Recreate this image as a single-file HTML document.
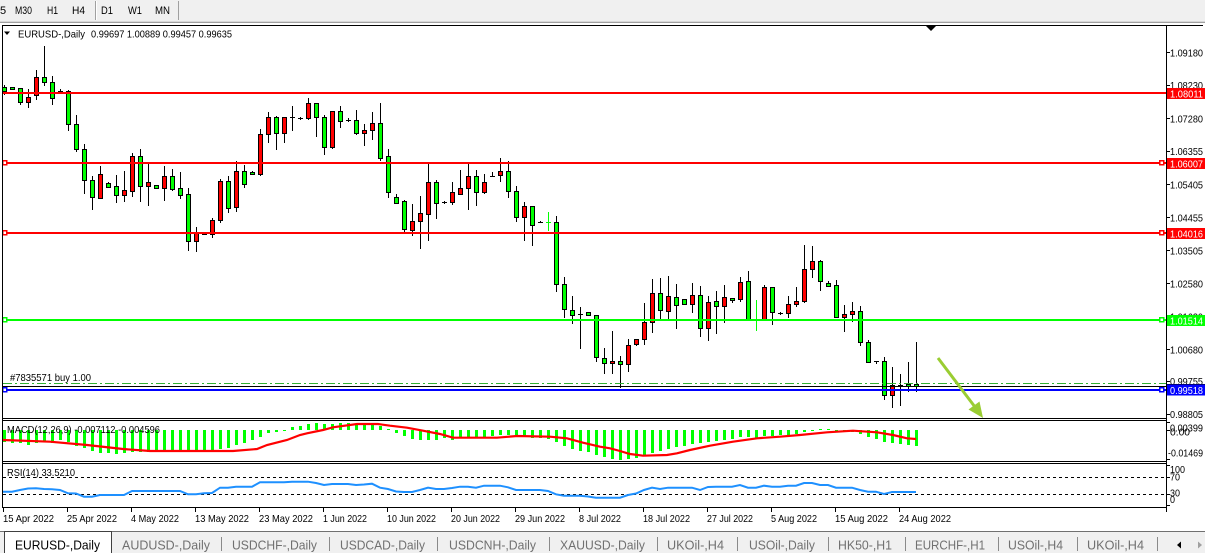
<!DOCTYPE html>
<html><head><meta charset="utf-8"><style>
html,body{margin:0;padding:0;background:#f0f0f0;}
svg{display:block;font-family:"Liberation Sans",Arial,sans-serif;}
</style></head><body>
<svg width="1205" height="553" viewBox="0 0 1205 553" xmlns="http://www.w3.org/2000/svg">
<!-- toolbar -->
<rect x="0" y="0" width="1205" height="21" fill="#f0f0f0"/>
<g font-size="11" fill="#000">
<text x="0" y="14">5</text>
<text x="15" y="14" textLength="17" lengthAdjust="spacingAndGlyphs">M30</text>
<text x="47" y="14" textLength="11" lengthAdjust="spacingAndGlyphs">H1</text>
<text x="72" y="14" textLength="13" lengthAdjust="spacingAndGlyphs">H4</text>
<text x="101" y="14" textLength="12" lengthAdjust="spacingAndGlyphs">D1</text>
<text x="128" y="14" textLength="14" lengthAdjust="spacingAndGlyphs">W1</text>
<text x="155" y="14" textLength="15" lengthAdjust="spacingAndGlyphs">MN</text>
</g>
<g shape-rendering="crispEdges">
<line x1="95.5" y1="1" x2="95.5" y2="20" stroke="#a0a0a0"/>
<line x1="96.5" y1="1" x2="96.5" y2="20" stroke="#ffffff"/>
<line x1="178.5" y1="1" x2="178.5" y2="20" stroke="#a0a0a0"/>
<line x1="0" y1="21.5" x2="1205" y2="21.5" stroke="#d8d8d8"/>
<line x1="0" y1="22.5" x2="1205" y2="22.5" stroke="#a0a0a0"/>
</g>
<!-- chart white area -->
<rect x="0" y="23" width="1205" height="508" fill="#ffffff"/>

<!-- candle wicks -->
<path fill="none" stroke="#000" stroke-width="1" shape-rendering="crispEdges" d="M4.5 85V95M20.5 88V105M28.5 89V108M36.5 70V100M44.5 46V86M52.5 76V105M60.5 89V93M68.5 90V131M76.5 115V152M84.5 144V194M92.5 176V210M100.5 166V199M108.5 182V187M116.5 175V203M124.5 171V202M132.5 153V197M140.5 149V202M148.5 163V206M156.5 185V189M164.5 166V201M172.5 169V191M180.5 172V199M188.5 188V251M196.5 227V252M204.5 233V235M212.5 218V238M220.5 179V223M228.5 176V213M236.5 161V212M244.5 165V188M252.5 171V175M260.5 129V176M268.5 112V143M276.5 116V150M284.5 117V143M292.5 106V131M300.5 117V120M308.5 98V120M316.5 103V137M324.5 115V155M332.5 111V149M340.5 106V128M348.5 118V122M356.5 110V135M364.5 124V146M372.5 112V140M380.5 103V161M388.5 149V198M396.5 194V204M404.5 200V234M412.5 204V236M420.5 196V249M428.5 163V241M436.5 180V219M444.5 201V204M452.5 182V205M460.5 170V195M468.5 163V210M476.5 170V206M484.5 174V194M492.5 172V177M500.5 158V182M508.5 161V198M516.5 186V222M524.5 202V241M532.5 206V246M540.5 221V223M556.5 216V292M564.5 277V318M572.5 296V324M580.5 307V349M588.5 312V316M596.5 315V362M604.5 348V374M612.5 331V374M620.5 356V388M628.5 339V372M636.5 339V346M644.5 303V345M652.5 279V333M660.5 278V319M668.5 276V320M676.5 284V329M692.5 283V313M700.5 286V337M708.5 296V341M716.5 291V334M724.5 285V323M732.5 298V303M740.5 277V302M748.5 271V320M764.5 285V320M772.5 287V325M780.5 312V315M788.5 296V318M796.5 287V307M804.5 245V303M812.5 246V278M820.5 260V291M828.5 281V286M836.5 280V318M844.5 305V332M852.5 302V322M860.5 306V346M868.5 340V362M876.5 361V364M884.5 357V400M892.5 367V408M900.5 374V406M908.5 362V392M916.5 342V392"/>
<!-- doji -->
<path fill="none" stroke="#000" stroke-width="1" shape-rendering="crispEdges" d="M58 91.5h5M202 234.5h5M290 117.5h5M298 118.5h5M346 120.5h5M442 202.5h5M490 176.5h5M538 222.5h5M578 314.5h5M778 313.5h5M874 361.5h5M898 385.5h5"/>
<path fill="none" stroke="#00ff00" stroke-width="1" shape-rendering="crispEdges" d="M548.5 212V231M546 222.5h5M756.5 300V331M754 320.5h5"/>
<!-- bear (green) bodies -->
<g fill="#00ff00" stroke="#000" stroke-width="1" shape-rendering="crispEdges">
<rect x="2.5" y="87.5" width="4" height="4"/>
<rect x="10.5" y="87.5" width="4" height="2"/>
<rect x="18.5" y="88.5" width="4" height="14"/>
<rect x="42.5" y="77.5" width="4" height="5"/>
<rect x="50.5" y="82.5" width="4" height="16"/>
<rect x="66.5" y="91.5" width="4" height="33"/>
<rect x="74.5" y="124.5" width="4" height="25"/>
<rect x="82.5" y="149.5" width="4" height="31"/>
<rect x="90.5" y="180.5" width="4" height="17"/>
<rect x="106.5" y="183.5" width="4" height="4"/>
<rect x="114.5" y="186.5" width="4" height="9"/>
<rect x="138.5" y="156.5" width="4" height="30"/>
<rect x="154.5" y="185.5" width="4" height="3"/>
<rect x="170.5" y="176.5" width="4" height="13"/>
<rect x="178.5" y="188.5" width="4" height="7"/>
<rect x="186.5" y="194.5" width="4" height="47"/>
<rect x="226.5" y="181.5" width="4" height="27"/>
<rect x="242.5" y="171.5" width="4" height="13"/>
<rect x="250.5" y="172.5" width="4" height="2"/>
<rect x="274.5" y="117.5" width="4" height="16"/>
<rect x="314.5" y="103.5" width="4" height="14"/>
<rect x="322.5" y="117.5" width="4" height="30"/>
<rect x="338.5" y="111.5" width="4" height="10"/>
<rect x="354.5" y="120.5" width="4" height="13"/>
<rect x="378.5" y="123.5" width="4" height="35"/>
<rect x="386.5" y="156.5" width="4" height="36"/>
<rect x="394.5" y="197.5" width="4" height="6"/>
<rect x="402.5" y="201.5" width="4" height="28"/>
<rect x="434.5" y="182.5" width="4" height="21"/>
<rect x="474.5" y="176.5" width="4" height="16"/>
<rect x="506.5" y="171.5" width="4" height="20"/>
<rect x="514.5" y="191.5" width="4" height="26"/>
<rect x="530.5" y="206.5" width="4" height="19"/>
<rect x="554.5" y="222.5" width="4" height="62"/>
<rect x="562.5" y="284.5" width="4" height="25"/>
<rect x="570.5" y="310.5" width="4" height="5"/>
<rect x="586.5" y="312.5" width="4" height="3"/>
<rect x="594.5" y="315.5" width="4" height="42"/>
<rect x="602.5" y="358.5" width="4" height="5"/>
<rect x="618.5" y="361.5" width="4" height="3"/>
<rect x="658.5" y="293.5" width="4" height="17"/>
<rect x="674.5" y="297.5" width="4" height="8"/>
<rect x="682.5" y="299.5" width="4" height="5"/>
<rect x="698.5" y="295.5" width="4" height="33"/>
<rect x="714.5" y="301.5" width="4" height="5"/>
<rect x="730.5" y="298.5" width="4" height="2"/>
<rect x="746.5" y="281.5" width="4" height="39"/>
<rect x="770.5" y="287.5" width="4" height="25"/>
<rect x="818.5" y="261.5" width="4" height="20"/>
<rect x="826.5" y="283.5" width="4" height="3"/>
<rect x="834.5" y="285.5" width="4" height="32"/>
<rect x="858.5" y="311.5" width="4" height="31"/>
<rect x="866.5" y="342.5" width="4" height="20"/>
<rect x="882.5" y="361.5" width="4" height="34"/>
<rect x="906.5" y="384.5" width="4" height="2"/>
<rect x="914.5" y="384.5" width="4" height="2"/>
</g>
<!-- bull (red) bodies -->
<g fill="#ff0000" stroke="#000" stroke-width="1" shape-rendering="crispEdges">
<rect x="26.5" y="97.5" width="4" height="5"/>
<rect x="34.5" y="77.5" width="4" height="18"/>
<rect x="98.5" y="174.5" width="4" height="24"/>
<rect x="122.5" y="190.5" width="4" height="5"/>
<rect x="130.5" y="156.5" width="4" height="35"/>
<rect x="146.5" y="182.5" width="4" height="4"/>
<rect x="162.5" y="176.5" width="4" height="12"/>
<rect x="194.5" y="233.5" width="4" height="8"/>
<rect x="210.5" y="220.5" width="4" height="14"/>
<rect x="218.5" y="181.5" width="4" height="39"/>
<rect x="234.5" y="171.5" width="4" height="36"/>
<rect x="258.5" y="134.5" width="4" height="40"/>
<rect x="266.5" y="117.5" width="4" height="17"/>
<rect x="282.5" y="117.5" width="4" height="16"/>
<rect x="306.5" y="103.5" width="4" height="15"/>
<rect x="330.5" y="111.5" width="4" height="36"/>
<rect x="362.5" y="130.5" width="4" height="3"/>
<rect x="370.5" y="123.5" width="4" height="7"/>
<rect x="410.5" y="221.5" width="4" height="9"/>
<rect x="418.5" y="213.5" width="4" height="8"/>
<rect x="426.5" y="182.5" width="4" height="32"/>
<rect x="450.5" y="192.5" width="4" height="10"/>
<rect x="458.5" y="188.5" width="4" height="6"/>
<rect x="466.5" y="176.5" width="4" height="12"/>
<rect x="482.5" y="182.5" width="4" height="10"/>
<rect x="498.5" y="171.5" width="4" height="4"/>
<rect x="522.5" y="206.5" width="4" height="11"/>
<rect x="610.5" y="361.5" width="4" height="2"/>
<rect x="626.5" y="345.5" width="4" height="19"/>
<rect x="634.5" y="339.5" width="4" height="5"/>
<rect x="642.5" y="322.5" width="4" height="17"/>
<rect x="650.5" y="293.5" width="4" height="29"/>
<rect x="666.5" y="296.5" width="4" height="15"/>
<rect x="690.5" y="295.5" width="4" height="9"/>
<rect x="706.5" y="302.5" width="4" height="26"/>
<rect x="722.5" y="297.5" width="4" height="9"/>
<rect x="738.5" y="282.5" width="4" height="17"/>
<rect x="762.5" y="287.5" width="4" height="33"/>
<rect x="786.5" y="304.5" width="4" height="9"/>
<rect x="794.5" y="301.5" width="4" height="3"/>
<rect x="802.5" y="269.5" width="4" height="32"/>
<rect x="810.5" y="261.5" width="4" height="8"/>
<rect x="842.5" y="314.5" width="4" height="3"/>
<rect x="850.5" y="311.5" width="4" height="3"/>
<rect x="890.5" y="385.5" width="4" height="10"/>
</g>

<!-- horizontal level lines -->
<g shape-rendering="crispEdges" stroke-width="2">
<line x1="2" y1="93" x2="1166" y2="93" stroke="#ff0000"/>
<line x1="2" y1="163" x2="1166" y2="163" stroke="#ff0000"/>
<line x1="2" y1="233" x2="1166" y2="233" stroke="#ff0000"/>
<line x1="2" y1="320" x2="1166" y2="320" stroke="#00ff00"/>
<line x1="2" y1="390" x2="1166" y2="390" stroke="#0000ff"/>
</g>
<!-- endpoint squares -->
<g fill="#fff" stroke-width="1.5" shape-rendering="crispEdges">
<rect x="2.5" y="160.5" width="4" height="4" stroke="#ff0000"/>
<rect x="2.5" y="230.5" width="4" height="4" stroke="#ff0000"/>
<rect x="2.5" y="317.5" width="4" height="4" stroke="#00ff00"/>
<rect x="2.5" y="387.5" width="4" height="4" stroke="#0000ff"/>
<rect x="1159.5" y="160.5" width="4" height="4" stroke="#ff0000"/>
<rect x="1159.5" y="230.5" width="4" height="4" stroke="#ff0000"/>
<rect x="1159.5" y="317.5" width="4" height="4" stroke="#00ff00"/>
<rect x="1159.5" y="387.5" width="4" height="4" stroke="#0000ff"/>
</g>
<!-- order line & bid line -->
<line x1="3" y1="383.5" x2="1166" y2="383.5" stroke="#33b033" stroke-width="1" stroke-dasharray="9,3,2,3" shape-rendering="crispEdges"/>
<line x1="3" y1="386.5" x2="1166" y2="386.5" stroke="#000" stroke-width="1" shape-rendering="crispEdges"/>
<text x="10" y="381" font-size="10.5" fill="#000" textLength="81" lengthAdjust="spacingAndGlyphs">#7835571 buy 1.00</text>

<!-- arrow -->
<line x1="938" y1="358" x2="975" y2="407" stroke="#9acd32" stroke-width="3"/>
<polygon points="983,418 979.5,401.5 968.5,409.5" fill="#9acd32"/>

<!-- top triangle marker -->
<polygon points="926,26 936,26 931,31" fill="#000"/>

<!-- title -->
<polygon points="4,31.5 10,31.5 7,35" fill="#000"/>
<text x="18" y="37.5" font-size="10.5" fill="#000" textLength="67" lengthAdjust="spacingAndGlyphs">EURUSD-,Daily</text>
<text x="91" y="37.5" font-size="10.5" fill="#000" textLength="141" lengthAdjust="spacingAndGlyphs">0.99697 1.00889 0.99457 0.99635</text>

<!-- MACD histogram -->
<path fill="none" stroke="#00ff00" stroke-width="3" shape-rendering="crispEdges" d="M4.5 430V442M12.5 430V443M20.5 430V443M28.5 430V445M36.5 430V443M44.5 430V442M52.5 430V443M60.5 430V440M68.5 430V442M76.5 430V446M84.5 430V448M92.5 430V451M100.5 430V453M108.5 430V453M116.5 430V454M124.5 430V453M132.5 430V452M140.5 430V452M148.5 430V452M156.5 430V451M164.5 430V450M172.5 430V450M180.5 430V450M188.5 430V450M196.5 430V450M204.5 430V452M212.5 430V450M220.5 430V449M228.5 430V448M236.5 430V445M244.5 430V443M252.5 430V440M260.5 430V437M268.5 430V433M276.5 430V432M284.5 430V431M292.5 430V427M300.5 430V426M308.5 430V424M316.5 430V423M324.5 430V424M332.5 430V424M340.5 430V423M348.5 430V423M356.5 430V424M364.5 430V425M372.5 430V425M380.5 430V426M388.5 430V429M396.5 430V433M404.5 430V436M412.5 430V439M420.5 430V440M428.5 430V440M436.5 430V440M444.5 430V438M452.5 430V440M460.5 430V437M468.5 430V437M476.5 430V437M484.5 430V437M492.5 430V436M500.5 430V435M508.5 430V435M516.5 430V436M524.5 430V437M532.5 430V438M540.5 430V438M548.5 430V439M556.5 430V442M564.5 430V446M572.5 430V449M580.5 430V451M588.5 430V452M596.5 430V455M604.5 430V457M612.5 430V459M620.5 430V460M628.5 430V459M636.5 430V458M644.5 430V455M652.5 430V453M660.5 430V451M668.5 430V449M676.5 430V447M684.5 430V446M692.5 430V444M700.5 430V443M708.5 430V442M716.5 430V441M724.5 430V440M732.5 430V439M740.5 430V437M748.5 430V437M756.5 430V438M764.5 430V436M772.5 430V436M780.5 430V435M788.5 430V435M796.5 430V434M804.5 430V432M812.5 430V431M820.5 430V429M828.5 430V429M836.5 430V431M844.5 430V431M852.5 430V432M860.5 430V434M868.5 430V437M876.5 430V439M884.5 430V442M892.5 430V443M900.5 430V444M908.5 430V445M916.5 430V446"/>
<!-- MACD signal -->
<polyline fill="none" stroke="#ff0000" stroke-width="2.2" points="3,440 50,441.7 87,445 123,449 150,451 233,451 257,449 267,445 287,440 300,435 307,433.3 323,430 333,427.3 357,424 378,424 390,425.7 407,427.7 423,430.7 440,434 453,437.7 497,437.7 517,436 550,436.7 567,438.3 583,442.7 600,446.7 610,448.3 620,451 630,454 643,455.7 667,455 677,453.3 690,450 710,445.7 733,441.7 757,438.3 780,436.7 800,435 827,432.3 853,430.7 877,432.3 893,435 907,438.3 916,439"/>
<text x="7" y="433" font-size="10.5" fill="#000" textLength="153" lengthAdjust="spacingAndGlyphs">MACD(12,26,9) -0.007112 -0.004596</text>

<!-- RSI -->
<g stroke="#000" stroke-width="1" stroke-dasharray="3,3" shape-rendering="crispEdges">
<line x1="3" y1="477.5" x2="1166" y2="477.5"/>
<line x1="3" y1="494.5" x2="1166" y2="494.5"/>
</g>
<polyline fill="none" stroke="#1e90ff" stroke-width="2" points="3,491.7 12,491.7 20,490 28,488.5 36,488.3 44,489 52,489.3 60,490 68,493.3 76,493.5 84,496.7 92,496.7 100,495 108,495 116,495 124,495 132,491 140,491 148,491 156,491 164,491 172,491 180,491 188,494.3 196,494.3 204,493.3 212,493 220,487.7 228,487.7 236,486.7 244,486.7 252,486.7 260,482.3 268,482.3 276,482.3 284,482.3 292,481.7 300,481.7 308,481.7 316,483 324,485 332,484 340,484 348,484 356,485 364,484.5 372,483.7 380,487.7 388,489 396,491.5 404,492 412,492 420,490 428,487.7 436,489 444,489 452,488 460,486.7 468,486.7 476,487.7 484,485.7 492,485.7 500,485.7 508,487.3 516,490 524,490 532,490 540,490 548,491 556,494.3 564,495.7 572,495.7 580,495.7 588,496.5 596,497.7 604,497.7 612,497.7 620,497.7 628,495 636,493.5 644,490 652,487.7 660,489 668,487.7 676,487.7 684,487.7 692,487.7 700,490 708,487 716,486.7 724,486.7 732,486.7 740,485 748,487.7 756,487.7 764,485.7 772,486.7 780,486.7 788,485.7 796,485.7 804,483 812,483 820,485 828,485 836,487.7 844,487.7 852,487.7 860,490 868,491.7 876,491.7 884,494 892,492 900,492 908,492 916,492"/>
<text x="7" y="476" font-size="10.5" fill="#000" textLength="68" lengthAdjust="spacingAndGlyphs">RSI(14) 33.5210</text>

<!-- frames -->
<g stroke="#000" stroke-width="1" shape-rendering="crispEdges" fill="none">
<line x1="2" y1="25.5" x2="1203" y2="25.5"/>
<line x1="2.5" y1="25" x2="2.5" y2="508"/>
<line x1="1166.5" y1="25" x2="1166.5" y2="508"/>
<line x1="2" y1="418.5" x2="1167" y2="418.5"/>
<line x1="2" y1="420.5" x2="1167" y2="420.5"/>
<line x1="2" y1="461.5" x2="1167" y2="461.5"/>
<line x1="2" y1="463.5" x2="1167" y2="463.5"/>
<line x1="2" y1="507.5" x2="1167" y2="507.5"/>
<!-- price ticks -->
<path d="M1166 52.5h4M1166 85.5h4M1166 118.5h4M1166 151.5h4M1166 184.5h4M1166 217.5h4M1166 250.5h4M1166 283.5h4M1166 316.5h4M1166 349.5h4M1166 381.5h4M1166 414.5h4M1166 422.5h4M1166 430.5h4M1166 459.5h4M1166 465.5h4M1166 477.5h4M1166 494.5h4M1166 505.5h4"/>
<!-- time ticks -->
<path d="M3.5 507v5M67.5 507v5M131.5 507v5M195.5 507v5M259.5 507v5M323.5 507v5M387.5 507v5M451.5 507v5M515.5 507v5M579.5 507v5M643.5 507v5M707.5 507v5M771.5 507v5M835.5 507v5M899.5 507v5M1166.5 507v5"/>
</g>

<!-- price axis labels -->
<g font-size="10.5" fill="#000" lengthAdjust="spacingAndGlyphs">
<text x="1170" y="56.5" textLength="33" lengthAdjust="spacingAndGlyphs">1.09180</text>
<text x="1170" y="89" textLength="33" lengthAdjust="spacingAndGlyphs">1.08230</text>
<text x="1170" y="122.5" textLength="33" lengthAdjust="spacingAndGlyphs">1.07280</text>
<text x="1170" y="155" textLength="33" lengthAdjust="spacingAndGlyphs">1.06355</text>
<text x="1170" y="188.5" textLength="33" lengthAdjust="spacingAndGlyphs">1.05405</text>
<text x="1170" y="221.5" textLength="33" lengthAdjust="spacingAndGlyphs">1.04455</text>
<text x="1170" y="254.5" textLength="33" lengthAdjust="spacingAndGlyphs">1.03505</text>
<text x="1170" y="287.5" textLength="33" lengthAdjust="spacingAndGlyphs">1.02580</text>
<text x="1170" y="320.5" textLength="33" lengthAdjust="spacingAndGlyphs">1.01630</text>
<text x="1170" y="353.5" textLength="33" lengthAdjust="spacingAndGlyphs">1.00680</text>
<text x="1170" y="385" textLength="33" lengthAdjust="spacingAndGlyphs">0.99755</text>
<text x="1170" y="418" textLength="33" lengthAdjust="spacingAndGlyphs">0.98805</text>
<text x="1170" y="431.5" textLength="33" lengthAdjust="spacingAndGlyphs">0.00399</text>
<text x="1170" y="435.5" textLength="20" lengthAdjust="spacingAndGlyphs">0.00</text>
<text x="1168" y="456.5" textLength="35" lengthAdjust="spacingAndGlyphs">-0.01469</text>
<text x="1170" y="473" textLength="15" lengthAdjust="spacingAndGlyphs">100</text>
<text x="1170" y="480.5" textLength="10" lengthAdjust="spacingAndGlyphs">70</text>
<text x="1170" y="496.5" textLength="10" lengthAdjust="spacingAndGlyphs">30</text>
<text x="1170" y="503" textLength="5" lengthAdjust="spacingAndGlyphs">0</text>
</g>
<!-- bid line on axis -->
<rect x="1167" y="384" width="38" height="2" fill="#000"/>
<!-- level labels -->
<rect x="1167" y="88" width="38" height="11" fill="#ff0000"/>
<rect x="1167" y="158" width="38" height="11" fill="#ff0000"/>
<rect x="1167" y="228" width="38" height="11" fill="#ff0000"/>
<rect x="1167" y="315" width="38" height="11" fill="#00ff00"/>
<rect x="1167" y="384.5" width="38" height="11" fill="#0000ff"/>
<g font-size="10.5" fill="#fff">
<text x="1170" y="97.5" textLength="33" lengthAdjust="spacingAndGlyphs">1.08011</text>
<text x="1170" y="167.5" textLength="33" lengthAdjust="spacingAndGlyphs">1.06007</text>
<text x="1170" y="237.5" textLength="33" lengthAdjust="spacingAndGlyphs">1.04016</text>
<text x="1170" y="324.5" textLength="33" lengthAdjust="spacingAndGlyphs">1.01514</text>
<text x="1170" y="394" textLength="33" lengthAdjust="spacingAndGlyphs">0.99518</text>
</g>

<!-- date labels -->
<g font-size="10.5" fill="#000">
<text x="3" y="522" textLength="51" lengthAdjust="spacingAndGlyphs">15 Apr 2022</text>
<text x="67" y="522" textLength="50" lengthAdjust="spacingAndGlyphs">25 Apr 2022</text>
<text x="131" y="522" textLength="48" lengthAdjust="spacingAndGlyphs">4 May 2022</text>
<text x="195" y="522" textLength="54" lengthAdjust="spacingAndGlyphs">13 May 2022</text>
<text x="259" y="522" textLength="54" lengthAdjust="spacingAndGlyphs">23 May 2022</text>
<text x="323" y="522" textLength="44" lengthAdjust="spacingAndGlyphs">1 Jun 2022</text>
<text x="387" y="522" textLength="49" lengthAdjust="spacingAndGlyphs">10 Jun 2022</text>
<text x="451" y="522" textLength="49" lengthAdjust="spacingAndGlyphs">20 Jun 2022</text>
<text x="515" y="522" textLength="50" lengthAdjust="spacingAndGlyphs">29 Jun 2022</text>
<text x="579" y="522" textLength="42" lengthAdjust="spacingAndGlyphs">8 Jul 2022</text>
<text x="643" y="522" textLength="47" lengthAdjust="spacingAndGlyphs">18 Jul 2022</text>
<text x="707" y="522" textLength="46" lengthAdjust="spacingAndGlyphs">27 Jul 2022</text>
<text x="771" y="522" textLength="46" lengthAdjust="spacingAndGlyphs">5 Aug 2022</text>
<text x="835" y="522" textLength="53" lengthAdjust="spacingAndGlyphs">15 Aug 2022</text>
<text x="899" y="522" textLength="52" lengthAdjust="spacingAndGlyphs">24 Aug 2022</text>
</g>

<!-- tab bar -->
<rect x="0" y="531" width="1205" height="22" fill="#f0f0f0"/>
<line x1="0" y1="531.5" x2="1205" y2="531.5" stroke="#707070" stroke-width="1" shape-rendering="crispEdges"/>
<rect x="4.5" y="531.5" width="107" height="23" fill="#ffffff" stroke="#404040" stroke-width="1" shape-rendering="crispEdges"/>
<text x="15" y="549.5" font-size="13" fill="#000" textLength="85" lengthAdjust="spacingAndGlyphs">EURUSD-,Daily</text>
<g font-size="13" fill="#707070">
<text x="122" y="549.5" textLength="88" lengthAdjust="spacingAndGlyphs">AUDUSD-,Daily</text>
<text x="232" y="549.5" textLength="85" lengthAdjust="spacingAndGlyphs">USDCHF-,Daily</text>
<text x="340" y="549.5" textLength="85" lengthAdjust="spacingAndGlyphs">USDCAD-,Daily</text>
<text x="449" y="549.5" textLength="87" lengthAdjust="spacingAndGlyphs">USDCNH-,Daily</text>
<text x="560" y="549.5" textLength="85" lengthAdjust="spacingAndGlyphs">XAUUSD-,Daily</text>
<text x="667" y="549.5" textLength="57" lengthAdjust="spacingAndGlyphs">UKOil-,H4</text>
<text x="749" y="549.5" textLength="66" lengthAdjust="spacingAndGlyphs">USOil-,Daily</text>
<text x="838" y="549.5" textLength="54" lengthAdjust="spacingAndGlyphs">HK50-,H1</text>
<text x="915" y="549.5" textLength="70" lengthAdjust="spacingAndGlyphs">EURCHF-,H1</text>
<text x="1008" y="549.5" textLength="55" lengthAdjust="spacingAndGlyphs">USOil-,H4</text>
<text x="1087" y="549.5" textLength="57" lengthAdjust="spacingAndGlyphs">UKOil-,H4</text>
</g>
<path stroke="#8a8a8a" stroke-width="1" shape-rendering="crispEdges" d="M221.5 537v14M329.5 537v14M437.5 537v14M549.5 537v14M657.5 537v14M737.5 537v14M828.5 537v14M905.5 537v14M998.5 537v14M1077.5 537v14M1157.5 537v14"/>
<polygon points="1177,545 1181,541.5 1181,548.5" fill="#000"/>
<polygon points="1202,545 1198,541.5 1198,548.5" fill="#a0a0a0"/>
</svg>
</body></html>
